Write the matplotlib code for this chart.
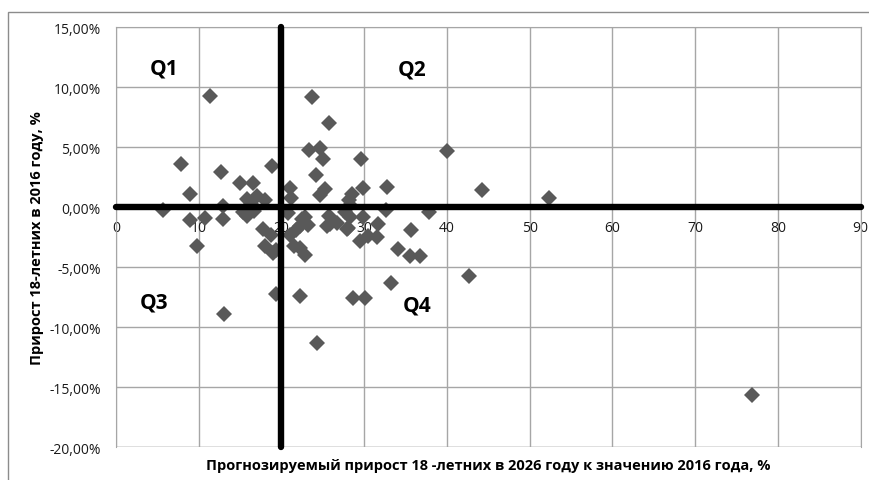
import matplotlib.pyplot as plt
from matplotlib.ticker import FuncFormatter, MultipleLocator
from matplotlib.patches import Rectangle

plt.rcParams['font.family'] = ['Open Sans', 'DejaVu Sans']

# x: прогнозируемый прирост 18-летних к 2026 году, %; y: прирост в 2016 году, %
growth_2026 = [
    11.4, 7.9, 8.9, 12.7, 15.0, 16.5, 18.9, 15.8, 17.0, 18.0, 12.9, 16.3,
    5.7, 8.9, 10.7, 12.9, 9.8, 15.8, 15.4, 16.7, 17.8, 18.0, 19.4, 18.7,
    19.4, 13.0, 19.0,
    23.7, 25.8, 23.3, 24.7, 25.0, 29.6, 40.0, 24.2, 25.3, 24.7, 29.9, 32.7,
    44.2, 52.3, 28.5, 28.2, 21.0, 21.2, 28.3,
    32.6, 37.8, 20.8, 22.8, 25.7, 25.9, 26.7, 28.1, 28.3, 29.9, 31.7, 22.2,
    21.8, 29.5, 30.5, 31.5, 35.7, 34.1, 35.5, 36.7, 21.5, 22.8, 22.3, 42.7,
    33.2, 22.3, 28.6, 30.1, 24.3, 76.9, 23.2, 27.7, 22.5, 25.5, 27.9, 21.0,
]
growth_2016 = [
    9.3, 3.6, 1.1, 2.9, 2.0, 2.0, 3.4, 0.7, 0.9, 0.6, 0.1, 0.3,
    -0.2, -1.1, -0.9, -1.0, -3.2, -0.7, -0.4, -0.3, -1.8, -3.2, -3.6, -2.3,
    -7.2, -8.9, -3.8,
    9.2, 7.0, 4.8, 4.9, 4.0, 4.0, 4.7, 2.7, 1.5, 1.0, 1.6, 1.7,
    1.4, 0.8, 1.1, 0.6, 1.6, 0.8, 0.2,
    -0.2, -0.4, -0.5, -0.8, -0.7, -1.4, -1.3, -1.7, -0.8, -0.8, -1.4, -1.6,
    -1.9, -2.8, -2.4, -2.5, -1.9, -3.5, -4.1, -4.1, -3.2, -4.0, -3.4, -5.7,
    -6.3, -7.4, -7.6, -7.6, -11.3, -15.7, -1.5, -0.4, -1.0, -1.6, -1.8, -2.3,
]

x_ticks = list(range(0, 91, 10))
quadrants = ['Q1', 'Q2', 'Q3', 'Q4']
quad_x = [5.8, 35.8, 4.6, 36.4]
quad_y = [11.6, 11.5, -7.9, -8.2]

fig = plt.figure(figsize=(8.7, 4.81), dpi=100)
ax = fig.add_axes([0.1333, 0.0686, 0.8560, 0.8726])

# outer chart frame (cut by the image edges on the right and bottom)
fig.patches.append(Rectangle((8 / 870, -0.1), 1.2, 1 - 13 / 481 + 0.1,
                             transform=fig.transFigure, fill=False,
                             edgecolor='#8c8c8c', linewidth=1))

ax.set_xlim(0, 90)
ax.set_ylim(-20, 15)
ax.set_xticks(x_ticks)
ax.yaxis.set_major_locator(MultipleLocator(5))
ax.yaxis.set_major_formatter(FuncFormatter(lambda v, p: f'{v:.2f}%'.replace('.', ',')))
ax.grid(True, color='#a6a6a6', linewidth=1)
ax.set_axisbelow(True)

for side in ['top', 'right', 'left']:
    ax.spines[side].set_color('#a6a6a6')
ax.spines['bottom'].set_position(('data', 0))
ax.spines['bottom'].set_visible(False)
ax.tick_params(axis='both', length=0, labelsize=10, colors='#1a1a1a')
ax.tick_params(axis='x', pad=9)
ax.tick_params(axis='y', pad=11)

# bottom border of the plot area at -20%
ax.axhline(-20, color='#a6a6a6', linewidth=1, zorder=0.5)

ax.plot(growth_2026, growth_2016, linestyle='none', marker='D', markersize=8.5,
        color='#595959', markeredgewidth=0, zorder=3, clip_on=False)

# quadrant dividers
ax.plot([0, 90], [0, 0], color='black', linewidth=4.6, solid_capstyle='round',
        zorder=4, clip_on=False)
ax.plot([20, 20], [15, -20], color='black', linewidth=4.6, solid_capstyle='round',
        zorder=4, clip_on=False)

for q, qx, qy in zip(quadrants, quad_x, quad_y):
    ax.text(qx, qy, q, fontsize=15, fontweight='bold', ha='center', va='center',
            color='black', zorder=5)

fig.text(37 / 870, 1 - 238 / 481, 'Прирост 18-летних в 2016 году, %', rotation=90,
         fontsize=10.5, fontweight='bold', ha='center', va='center')
fig.text(488 / 870, 1 - 466 / 481,
         'Прогнозируемый прирост 18 -летних в 2026 году к значению 2016 года, %',
         fontsize=10.5, fontweight='bold', ha='center', va='center')

fig.savefig('out.png', dpi=100)
